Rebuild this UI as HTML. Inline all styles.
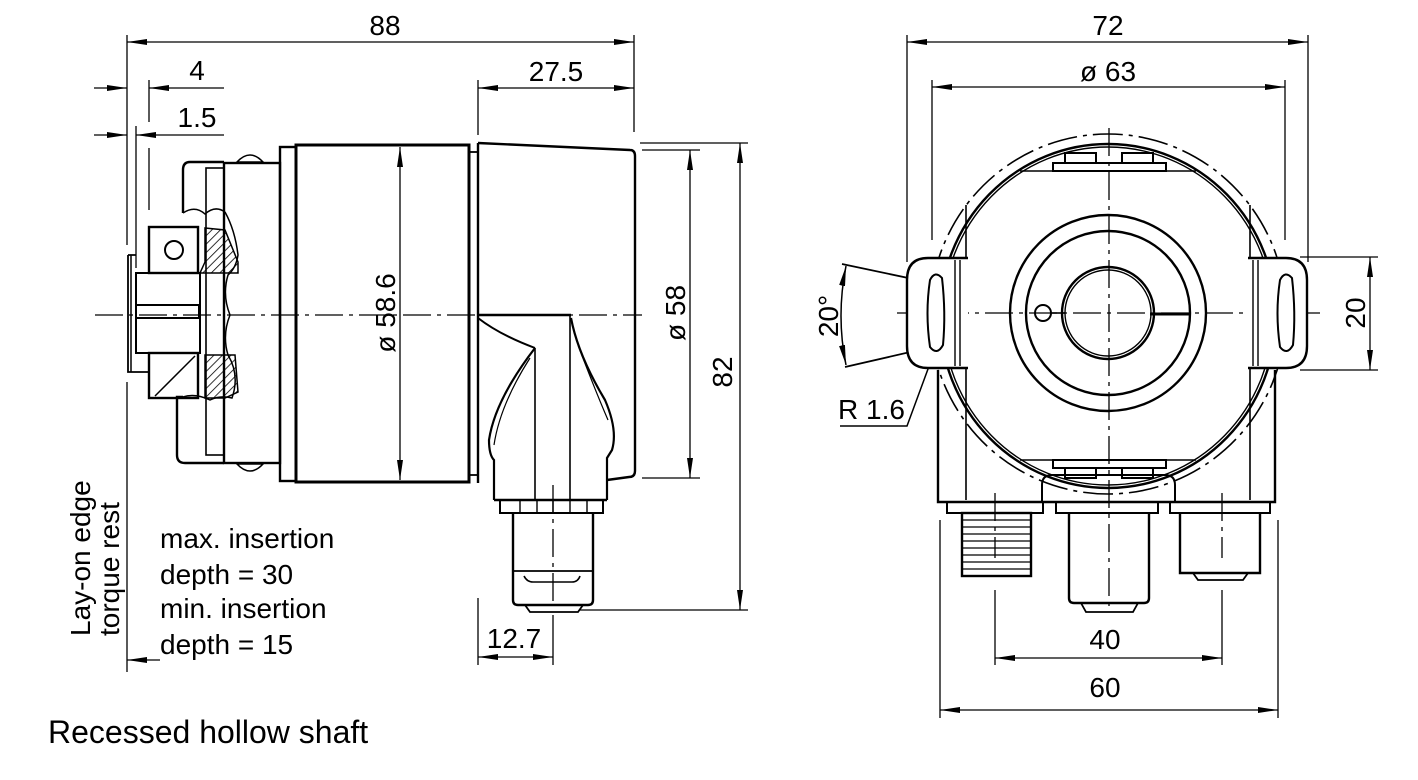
<!DOCTYPE html>
<html><head><meta charset="utf-8"><style>
html,body{margin:0;padding:0;background:#fff;}
svg{display:block;}
text{font-family:"Liberation Sans",sans-serif;fill:#000;}
</style></head><body>
<svg width="1418" height="780" viewBox="0 0 1418 780" xmlns="http://www.w3.org/2000/svg">
<defs>
<marker id="a" viewBox="0 0 20 6" refX="20" refY="3" markerWidth="20" markerHeight="6" markerUnits="userSpaceOnUse" orient="auto-start-reverse"><path d="M0,0 L20,3 L0,6 z" fill="#000"/></marker>
<pattern id="h" width="6" height="6" patternUnits="userSpaceOnUse" patternTransform="rotate(45)"><line x1="0" y1="0" x2="0" y2="6" stroke="#000" stroke-width="1.6"/></pattern>
</defs>
<g fill="none" stroke="#000">
<g stroke-width="1.3">
<line x1="127" y1="35" x2="127" y2="245"/>
<line x1="127" y1="382" x2="127" y2="672"/>
<line x1="634" y1="35" x2="634" y2="132"/>
<line x1="127" y1="42" x2="634" y2="42" marker-start="url(#a)" marker-end="url(#a)"/>
<line x1="149" y1="80" x2="149" y2="122"/>
<line x1="149" y1="148" x2="149" y2="210"/>
<line x1="136" y1="126" x2="136" y2="268"/>
<line x1="94" y1="88" x2="127" y2="88" marker-end="url(#a)"/>
<line x1="224" y1="88" x2="149" y2="88" marker-end="url(#a)"/>
<line x1="94" y1="135" x2="127" y2="135" marker-end="url(#a)"/>
<line x1="224" y1="135" x2="136" y2="135" marker-end="url(#a)"/>
<line x1="478" y1="80" x2="478" y2="135"/>
<line x1="478" y1="88" x2="634" y2="88" marker-start="url(#a)" marker-end="url(#a)"/>
<line x1="400" y1="147" x2="400" y2="480" marker-start="url(#a)" marker-end="url(#a)"/>
<line x1="642" y1="150" x2="700" y2="150"/>
<line x1="642" y1="478" x2="700" y2="478"/>
<line x1="690" y1="150" x2="690" y2="478" marker-start="url(#a)" marker-end="url(#a)"/>
<line x1="640" y1="143" x2="748" y2="143"/>
<line x1="580" y1="610" x2="748" y2="610"/>
<line x1="740" y1="143" x2="740" y2="610" marker-start="url(#a)" marker-end="url(#a)"/>
<line x1="478" y1="598" x2="478" y2="665"/>
<line x1="553" y1="615" x2="553" y2="665"/>
<line x1="478" y1="657" x2="553" y2="657" marker-start="url(#a)" marker-end="url(#a)"/>
<line x1="160" y1="660" x2="127" y2="660" marker-end="url(#a)"/>
<line x1="95" y1="315" x2="642" y2="315" stroke-dasharray="28,6,4,6"/>
<line x1="553" y1="485" x2="553" y2="605" stroke-dasharray="28,6,4,6"/>
</g>
<g stroke-width="2.4">
<path d="M224,162 H190 Q183,162 183,170 V213"/>
<path d="M183,397 H177 V455 Q177,463 185,463 H224"/>
<rect x="206" y="168" width="18" height="287" stroke-width="1.6"/>
<rect x="224" y="163" width="56" height="300"/>
<rect x="280" y="147" width="16" height="334"/>
<rect x="296" y="145" width="173" height="337" stroke-width="3"/>
<rect x="469" y="152" width="9" height="323" stroke-width="1.8"/>
<path d="M478,143 L630,150 Q635,150 635,156 V471 Q635,477 629,477 L607,480"/>
<line x1="478" y1="143" x2="478" y2="483"/>
<path d="M237,162 Q250,148 263,162 z" stroke-width="1.6"/>
<path d="M237,464 Q250,478 263,464 z" stroke-width="1.6"/>
<path d="M183,213 Q195,205 205,214 Q215,205 225,212" stroke-width="1.5"/>
<path d="M225,212 Q235,230 238,255 Q236,268 228,275 Q222,295 230,315 Q222,335 228,355 Q240,375 232,398 Q220,395 210,400 Q195,393 183,397" stroke-width="1.5"/>
<rect x="149" y="227" width="49" height="46"/>
<circle cx="174" cy="250" r="9" stroke-width="2"/>
<rect x="136" y="273" width="64" height="80" stroke-width="2"/>
<path d="M136,305 H199 V318 H136" stroke-width="2"/>
<rect x="149" y="353" width="49" height="45"/>
<line x1="155" y1="396" x2="195" y2="356" stroke-width="1.5"/>
<path d="M128,255 H136 M128,255 V372 H149" stroke-width="1.8"/>
<line x1="131" y1="255" x2="131" y2="372" stroke-width="1.5"/>
<path d="M205,228 L225,230 L238,262 L238,273 L200,273 L205,262 z" fill="url(#h)" stroke-width="1.5"/>
<path d="M205,355 L235,355 L238,392 L225,398 L205,398 z" fill="url(#h)" stroke-width="1.5"/>
<path d="M478,315 H571" />
<path d="M478,318 Q500,335 535,348" stroke-width="2"/>
<line x1="535" y1="348" x2="535" y2="500" stroke-width="1.6"/>
<line x1="570" y1="316" x2="570" y2="500" stroke-width="1.6"/>
<path d="M535,348 Q495,400 489,440 Q489,455 494,460 V500" stroke-width="2.2"/>
<path d="M530,358 Q500,405 494,445" stroke-width="1.2"/>
<path d="M571,318 Q578,355 605,400 Q618,430 612,450 L607,458 V500" stroke-width="2.2"/>
<path d="M578,345 Q595,390 608,420" stroke-width="1.2"/>
<line x1="494" y1="500" x2="607" y2="500"/>
<rect x="500" y="500" width="103" height="13" stroke-width="2"/>
<path d="M520,500 V513 M537,500 V513 M553,500 V513 M570,500 V513 M587,500 V513" stroke-width="1.4"/>
<path d="M513,513 V600 Q513,605 518,605 H588 Q593,605 593,600 V513"/>
<line x1="513" y1="571" x2="593" y2="571" stroke-width="1.8"/>
<path d="M524,576 Q527,582 533,582 H572 Q578,582 580,576" stroke-width="1.6"/>
<path d="M525,605 L530,612 H578 L583,605" stroke-width="1.8"/>
</g>
<g stroke-width="1.3">
<line x1="907" y1="35" x2="907" y2="262"/>
<line x1="1308" y1="35" x2="1308" y2="262"/>
<line x1="907" y1="42" x2="1308" y2="42" marker-start="url(#a)" marker-end="url(#a)"/>
<line x1="932" y1="80" x2="932" y2="240"/>
<line x1="1285" y1="80" x2="1285" y2="240"/>
<line x1="932" y1="87" x2="1285" y2="87" marker-start="url(#a)" marker-end="url(#a)"/>
<line x1="940" y1="520" x2="940" y2="718"/>
<line x1="1278" y1="520" x2="1278" y2="718"/>
<line x1="940" y1="710" x2="1278" y2="710" marker-start="url(#a)" marker-end="url(#a)"/>
<line x1="995" y1="590" x2="995" y2="665"/>
<line x1="1222" y1="590" x2="1222" y2="665"/>
<line x1="995" y1="658" x2="1222" y2="658" marker-start="url(#a)" marker-end="url(#a)"/>
<line x1="995" y1="493" x2="995" y2="558" stroke-dasharray="28,6,4,6"/>
<line x1="1222" y1="493" x2="1222" y2="558" stroke-dasharray="28,6,4,6"/>
<line x1="1300" y1="257" x2="1378" y2="257"/>
<line x1="1300" y1="370" x2="1378" y2="370"/>
<line x1="1370" y1="257" x2="1370" y2="370" marker-start="url(#a)" marker-end="url(#a)"/>
<line x1="842" y1="264" x2="932" y2="283" stroke-width="1.8"/>
<line x1="845" y1="367" x2="932" y2="347" stroke-width="1.8"/>
<path d="M846,266 Q836,316 846,365" marker-start="url(#a)" marker-end="url(#a)" stroke-width="1.5"/>
<path d="M840,426 H907 L935,350" stroke-width="1.5"/>
<line x1="897" y1="313" x2="1320" y2="313" stroke-dasharray="28,6,4,6"/>
<line x1="1109" y1="128" x2="1109" y2="612" stroke-dasharray="28,6,4,6"/>
<ellipse cx="1108" cy="314" rx="178" ry="180" stroke-dasharray="30,6,4,6" stroke-width="1.6"/>
</g>
<g stroke-width="2.4">
<ellipse cx="1108" cy="316" rx="168" ry="172"/>
<ellipse cx="1108" cy="316" rx="165" ry="169" stroke-width="1.4"/>
<path d="M966,205 V500 M1250,205 V500" stroke-width="1.6"/>
<path d="M938,370 V502 H1275 V370"/>
<path d="M968,258 H928 Q907,258 907,280 V346 Q907,368 928,368 H968" fill="#fff"/>
<path d="M1248,258 H1286 Q1307,258 1307,280 V346 Q1307,368 1286,368 H1248" fill="#fff"/>
<path d="M955,260 V366 M960,260 V366 M1253,260 V366 M1258,260 V366" stroke-width="1.4"/>
<path d="M930,280 Q935,270 942,278 Q946,313 943,345 Q937,356 930,347 Q925,313 930,280 z" stroke-width="2"/>
<path d="M1280,280 Q1285,270 1292,278 Q1296,313 1293,345 Q1287,356 1280,347 Q1275,313 1280,280 z" stroke-width="2"/>
<circle cx="1108" cy="313" r="98"/>
<circle cx="1108" cy="313" r="82"/>
<circle cx="1108" cy="313" r="46"/>
<circle cx="1108" cy="313" r="43" stroke-width="1.4"/>
<circle cx="1043" cy="313" r="8" stroke-width="2"/>
<line x1="1051" y1="313" x2="1065" y2="313" stroke-width="1.6"/>
<line x1="1150" y1="314" x2="1190" y2="314" stroke-width="3"/>
<rect x="1065" y="153" width="31" height="10" stroke-width="2"/>
<rect x="1122" y="153" width="31" height="10" stroke-width="2"/>
<rect x="1053" y="163" width="113" height="8" stroke-width="2"/>
<line x1="1020" y1="171" x2="1196" y2="171" stroke-width="1.6"/>
<line x1="1020" y1="460" x2="1196" y2="460" stroke-width="1.6"/>
<rect x="1053" y="460" width="113" height="8" stroke-width="2"/>
<rect x="1065" y="468" width="31" height="10" stroke-width="2"/>
<rect x="1122" y="468" width="31" height="10" stroke-width="2"/>
<path d="M1042,502 V485 Q1042,475 1052,475 H1165 Q1175,475 1175,485 V502" stroke-width="2"/>
<rect x="947" y="502" width="96" height="11" stroke-width="2"/>
<rect x="1056" y="502" width="102" height="11" stroke-width="2"/>
<rect x="1170" y="502" width="100" height="11" stroke-width="2"/>
<rect x="962" y="513" width="69" height="63"/>
<path d="M962,520 H1031 M962,527 H1031 M962,534 H1031 M962,541 H1031 M962,548 H1031 M962,555 H1031 M962,562 H1031 M962,569 H1031" stroke-width="1.3"/>
<path d="M1069,513 V598 Q1069,603 1074,603 H1144 Q1149,603 1149,598 V513"/>
<path d="M1081,603 L1086,612 H1133 L1138,603" stroke-width="1.8"/>
<path d="M1180,513 V573 H1260 V513"/>
<path d="M1193,573 L1198,580 H1243 L1248,573" stroke-width="1.8"/>
</g>
</g>
<g font-size="28">
<text x="385" y="35" text-anchor="middle">88</text>
<text x="197" y="80" text-anchor="middle">4</text>
<text x="197" y="127" text-anchor="middle">1.5</text>
<text x="556" y="81" text-anchor="middle">27.5</text>
<text x="514" y="648" text-anchor="middle">12.7</text>
<text transform="translate(395,313) rotate(-90)" text-anchor="middle">ø 58.6</text>
<text transform="translate(685,313) rotate(-90)" text-anchor="middle">ø 58</text>
<text transform="translate(732,372) rotate(-90)" text-anchor="middle">82</text>
<text x="160" y="548">max. insertion</text>
<text x="160" y="584">depth = 30</text>
<text x="160" y="618">min.  insertion</text>
<text x="160" y="654">depth = 15</text>
<text transform="translate(90,636) rotate(-90)">Lay-on edge</text>
<text transform="translate(119,636) rotate(-90)">torque rest</text>
<text x="1108" y="35" text-anchor="middle">72</text>
<text x="1108" y="81" text-anchor="middle">ø 63</text>
<text x="1105" y="649" text-anchor="middle">40</text>
<text x="1105" y="697" text-anchor="middle">60</text>
<text transform="translate(1365,313) rotate(-90)" text-anchor="middle">20</text>
<text transform="translate(838,316) rotate(-90)" text-anchor="middle">20°</text>
<text x="838" y="419">R 1.6</text>
<text x="48" y="743" font-size="32">Recessed hollow shaft</text>
</g>
</svg>
</body></html>
